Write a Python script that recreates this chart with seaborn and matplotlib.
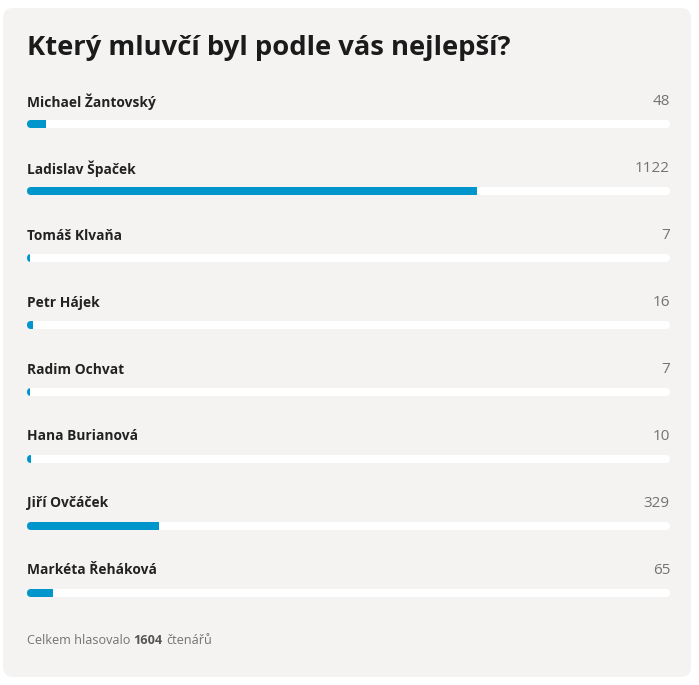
import matplotlib
matplotlib.use("Agg")
import matplotlib.pyplot as plt
import seaborn as sns
import pandas as pd
from matplotlib.patches import FancyBboxPatch

# ---- data ----
names = ["Michael Žantovský", "Ladislav Špaček", "Tomáš Klvaňa", "Petr Hájek",
         "Radim Ochvat", "Hana Burianová", "Jiří Ovčáček", "Markéta Řeháková"]
votes = [48, 1122, 7, 16, 7, 10, 329, 65]
title = "Který mluvčí byl podle vás nejlepší?"
footer_prefix = "Celkem hlasovalo"
footer_suffix = "čtenářů"

total = sum(votes)
df = pd.DataFrame({"name": names, "votes": votes})

# ---- style ----
W, H = 699, 685
BLUE = "#0096cc"
CARD = "#f4f3f2"
GREY = "#737373"
sns.set_theme(style="white")
plt.rcParams["font.family"] = ["Open Sans", "DejaVu Sans"]

fig = plt.figure(figsize=(W / 100, H / 100), dpi=100)
fig.patch.set_facecolor("white")

# card background
cx0, cy0, cx1, cy1 = 3, 8, 691, 677
card = FancyBboxPatch((cx0 / W, 1 - cy1 / H), (cx1 - cx0) / W, (cy1 - cy0) / H,
                      boxstyle=f"round,pad=0,rounding_size={10 / W}",
                      mutation_aspect=W / H, transform=fig.transFigure,
                      fc=CARD, ec="none", zorder=-5)
fig.patches.append(card)

# axes for the bar rows
row_px = 67.0
left_px, right_px = 27, 670
top_px = 124 - row_px / 2
bot_px = top_px + row_px * len(names)
ax = fig.add_axes([left_px / W, 1 - bot_px / H, (right_px - left_px) / W,
                   (bot_px - top_px) / H])
ax.set_zorder(2)
ax.patch.set_alpha(0)

bar_px = 8.0
sns.barplot(data=df, x="votes", y="name", orient="h", color=BLUE,
            width=bar_px / row_px, ax=ax, saturation=1, zorder=2,
            linewidth=0)
ax.set_xlim(0, total)
ax.set_ylim(len(names) - 0.5, -0.5)
ax.axis("off")

# rounded white track behind each bar, bar clipped to it
x_per_px = total / (right_px - left_px)
y_per_px = 1 / row_px
rx = (bar_px / 2) * x_per_px
ry = (bar_px / 2) * y_per_px
for p in list(ax.patches):
    y0, h = p.get_y(), p.get_height()
    track = FancyBboxPatch((0, y0), total, h,
                           boxstyle=f"round,pad=0,rounding_size={rx}",
                           mutation_aspect=ry / rx, fc="white", ec="none",
                           zorder=1, transform=ax.transData)
    ax.add_patch(track)
    p.set_clip_path(track)
    p.set_zorder(2)

# labels
lab_off = 22.5 * y_per_px
for i, (n, v) in enumerate(zip(names, votes)):
    ax.text(0, i - lab_off, n, ha="left", va="center", fontsize=9.9,
            fontweight="bold", color="#222222")
    ax.text(total, i - lab_off, str(v), ha="right", va="center",
            fontsize=11, color=GREY)

# title
fig.text(27 / W, 1 - 48 / H, title, ha="left", va="center", fontsize=19.7,
         fontweight="bold", color="#1b1b1b", family=["Open Sans", "DejaVu Sans"])

# footer
t1 = fig.text(27 / W, 1 - 641 / H, footer_prefix, ha="left", va="center",
              fontsize=9.1, color=GREY)
t2 = fig.text(0, 0, str(total), ha="left", va="bottom", fontsize=9.1,
              fontweight="bold", color="#555555")
t3 = fig.text(0, 0, footer_suffix, ha="left", va="bottom", fontsize=9.1,
              color=GREY)
fig.canvas.draw()
r = fig.canvas.get_renderer()
inv = fig.transFigure.inverted()
bb1 = t1.get_window_extent(r)
gap = 2.4 * 100 / 72
t2.set_position(inv.transform((bb1.x1 + gap, bb1.y0)))
bb2 = t2.get_window_extent(r)
t3.set_position(inv.transform((bb2.x1 + gap, bb1.y0)))

fig.savefig("out.png", dpi=100, facecolor="white")
